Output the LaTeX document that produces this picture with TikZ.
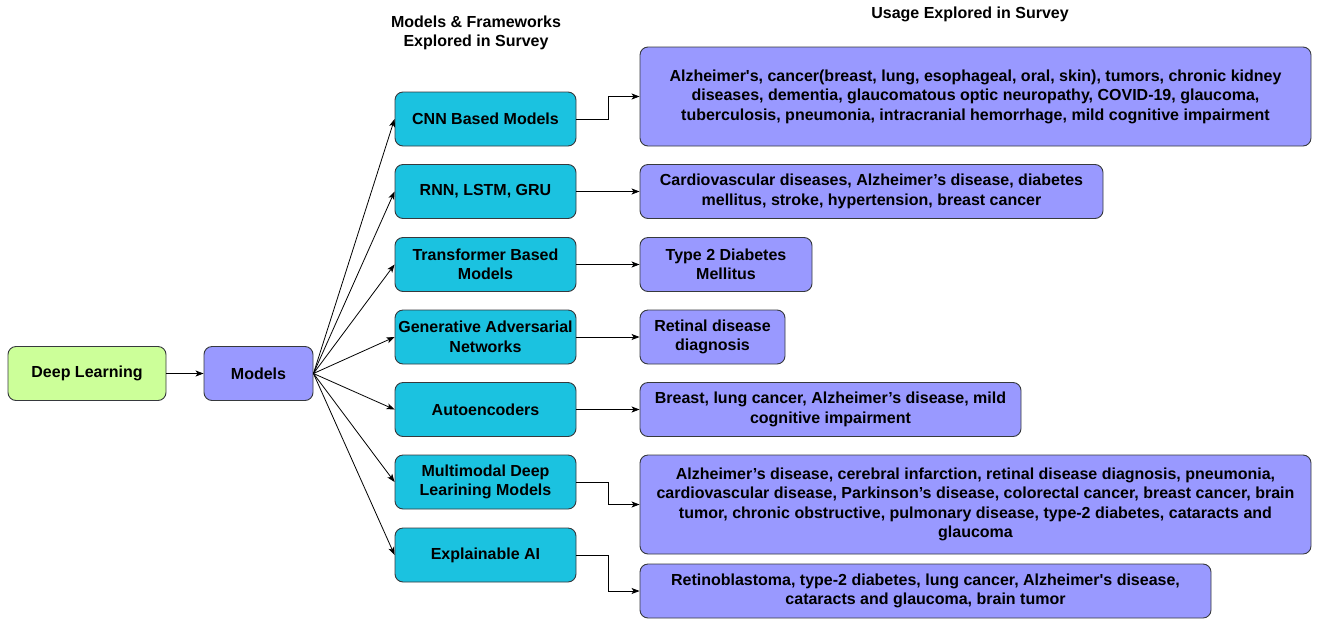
\documentclass[tikz,border=0pt]{standalone}
\usepackage{fontspec}
\setmainfont[Ligatures=TeXOff]{Liberation Sans}
\usetikzlibrary{arrows.meta}
\definecolor{greenbox}{HTML}{CCFF99}
\definecolor{purplebox}{HTML}{9999FF}
\definecolor{cyanbox}{HTML}{1BC2E0}
\definecolor{edgegray}{HTML}{36393D}
\begin{document}
\begin{tikzpicture}[x=1pt,y=-1pt,
  font=\fontsize{16}{19.5}\selectfont\bfseries,
  box/.style={draw=edgegray, line width=0.9pt, rounded corners=8pt, align=center, inner sep=0pt, minimum height=54pt},
  greenb/.style={box, fill=greenbox},
  purpleb/.style={box, fill=purplebox},
  cyanb/.style={box, fill=cyanbox, minimum width=181pt},
  arr/.style={-{Stealth[length=8pt,width=6pt,inset=2pt]}, line width=0.8pt, draw=black}]
\useasboundingbox (0,0) rectangle (1320,619);
% headers
\node[align=center] (h1) at (476,33) {Models \& Frameworks\\Explored in Survey};
\node[align=center] (h2) at (970,14) {Usage Explored in Survey};
% left
\node[greenb, minimum width=158pt] (dl) at (87,373.5) {Deep Learning};
\node[purpleb, minimum width=109pt] (models) at (258.5,373.5) {Models};
% model types
\node[cyanb] (cnn) at (485.5,119) {CNN Based Models};
\node[cyanb] (rnn) at (485.5,191.5) {RNN, LSTM, GRU};
\node[cyanb] (tr) at (485.5,264.5) {Transformer Based\\Models};
\node[cyanb] (gan) at (485.5,337) {Generative Adversarial\\Networks};
\node[cyanb] (ae) at (485.5,409.5) {Autoencoders};
\node[cyanb] (mm) at (485.5,482) {Multimodal Deep\\Learining Models};
\node[cyanb] (xai) at (485.5,555) {Explainable AI};
% usages
\node[purpleb, minimum width=671pt, minimum height=99pt] (u1) at (975.5,96.5) {Alzheimer's, cancer(breast, lung, esophageal, oral, skin), tumors, chronic kidney\\diseases, dementia, glaucomatous optic neuropathy, COVID-19, glaucoma,\\tuberculosis, pneumonia, intracranial hemorrhage, mild cognitive impairment};
\node[purpleb, minimum width=463pt] (u2) at (871.5,191.5) {Cardiovascular diseases, Alzheimer’s disease, diabetes\\mellitus, stroke, hypertension, breast cancer};
\node[purpleb, minimum width=172pt] (u3) at (726,264.5) {Type 2 Diabetes\\Mellitus};
\node[purpleb, minimum width=145pt] (u4) at (712.5,337) {Retinal disease\\diagnosis};
\node[purpleb, minimum width=381pt] (u5) at (830.5,409.5) {Breast, lung cancer, Alzheimer’s disease, mild\\cognitive impairment};
\node[purpleb, minimum width=671pt, minimum height=99pt] (u6) at (975.5,504.5) {Alzheimer’s disease, cerebral infarction, retinal disease diagnosis, pneumonia,\\cardiovascular disease, Parkinson’s disease, colorectal cancer, breast cancer, brain\\tumor, chronic obstructive, pulmonary disease, type-2 diabetes, cataracts and\\glaucoma};
\node[purpleb, minimum width=571pt] (u7) at (925.5,591) {Retinoblastoma, type-2 diabetes, lung cancer, Alzheimer's disease,\\cataracts and glaucoma, brain tumor};
% connectors
\draw[arr] (dl) -- (models);
\foreach \t in {cnn,rnn,tr,gan,ae,mm,xai} {\draw[arr] (models.east) -- (\t.west);}
\draw[arr] (cnn.east) -- ++(32,0) |- (u1.west);
\draw[arr] (rnn) -- (u2);
\draw[arr] (tr) -- (u3);
\draw[arr] (gan) -- (u4);
\draw[arr] (ae) -- (u5);
\draw[arr] (mm.east) -- ++(32,0) |- (u6.west);
\draw[arr] (xai.east) -- ++(32,0) |- (u7.west);
\end{tikzpicture}
\end{document}
